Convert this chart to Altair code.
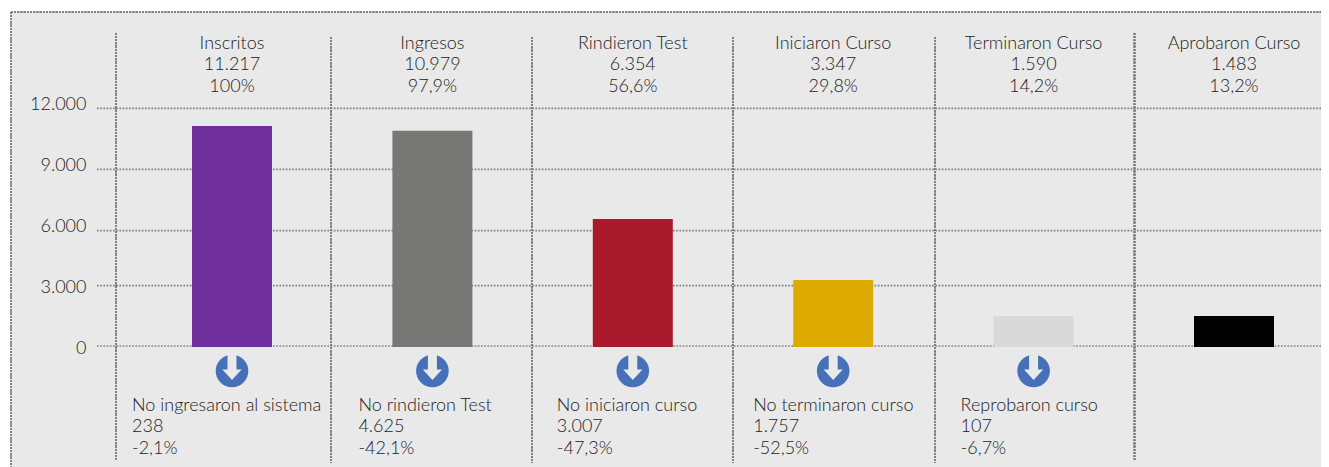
import altair as alt
import pandas as pd

stages = ["Inscritos", "Ingresos", "Rindieron Test", "Iniciaron Curso", "Terminaron Curso", "Aprobaron Curso"]
# bar lengths as drawn in the picture (the printed labels differ slightly for some bars)
bar_lengths = [11217, 10979, 6500, 3400, 1575, 1575]
value_labels = ["11.217", "10.979", "6.354", "3.347", "1.590", "1.483"]
pct_labels = ["100%", "97,9%", "56,6%", "29,8%", "14,2%", "13,2%"]
colors = ["#6f2f9d", "#777776", "#a8192b", "#dcaa00", "#d9d9d9", "#000000"]
loss_titles = ["No ingresaron al sistema", "No rindieron Test", "No iniciaron curso", "No terminaron curso", "Reprobaron curso"]
loss_values = ["238", "4.625", "3.007", "1.757", "107"]
loss_pcts = ["-2,1%", "-42,1%", "-47,3%", "-52,5%", "-6,7%"]
ticks = [0, 3000, 6000, 9000, 12000]

# layout (chart coordinates = page coordinates minus the 8px margin)
W, H = 1313, 459
PANEL = "#e9e9e9"
DOT = "#808080"
TXT = "#222222"
FONT = "Lato"
FS = 18
SEP_X = [108, 323, 524, 725, 927, 1126.5]
SEP_TOP = [25, 29, 29, 29, 29, 25]
SEP_BOT = [452, 455, 455, 455, 455, 452]
LOSS_DX = [-100, -74, -76, -80, -73]
GRID_RANGE = [338, 277.7, 222.7, 161.3, 100.3]

xscale = alt.Scale(domain=stages, range=[123.8, 1326.2], paddingInner=0, paddingOuter=0)
X = alt.X("stage:N", scale=xscale, axis=None, sort=stages)

df = pd.DataFrame({"stage": stages, "value": bar_lengths, "vl": value_labels, "pl": pct_labels, "color": colors})
loss = pd.DataFrame({"stage": stages[:5], "t": loss_titles, "v": loss_values, "p": loss_pcts})
tk = pd.DataFrame({"tick": ticks})

panel = alt.Chart(df).mark_rect(fill=PANEL).encode(
    x=alt.value(3), x2=alt.value(W), y=alt.value(4), y2=alt.value(H))
dot = dict(color=DOT, strokeDash=[1.7, 1.5], strokeWidth=1.7)
top_border = alt.Chart(df).mark_rule(**dot).encode(x=alt.value(3), x2=alt.value(W), y=alt.value(4))
left_border = alt.Chart(df).mark_rule(**dot).encode(x=alt.value(3), y=alt.value(4), y2=alt.value(H))

grid = alt.Chart(tk).mark_rule(**dot).encode(
    x=alt.value(89), x2=alt.value(W),
    y=alt.Y("tick:Q", axis=None, scale=alt.Scale(domain=ticks, range=GRID_RANGE)))

axis_layer = alt.Chart(tk).mark_rule(opacity=0).encode(
    y=alt.Y("tick:Q", title=None,
            scale=alt.Scale(domain=[0, 12000], range=[340, 96]),
            axis=alt.Axis(values=ticks, offset=-78, labelPadding=0, domain=False, ticks=False, grid=False,
                          zindex=1,
                          labelExpr="replace(format(datum.value, ',d'), ',', '.')",
                          labelFont=FONT, labelFontSize=FS, labelColor=TXT, labelFontWeight=300)))

seps = [alt.Chart(df).mark_rule(**dot).encode(x=alt.value(sx), y=alt.value(t), y2=alt.value(b))
        for sx, t, b in zip(SEP_X, SEP_TOP, SEP_BOT)]

bars = alt.Chart(df).mark_bar(width=80).encode(
    x=X,
    y=alt.Y("value:Q", axis=None, scale=alt.Scale(domain=[0, 12000], range=[339, 102.6])),
    y2=alt.datum(0),
    color=alt.Color("color:N", scale=None, legend=None))

def text(data, field, y, **kw):
    return alt.Chart(data).mark_text(font=FONT, fontSize=FS, color=TXT, fontWeight=300, baseline="middle", **kw).encode(
        x=X, y=alt.value(y), text=f"{field}:N")

top_text = [text(df, "stage", 36), text(df, "vl", 57), text(df, "pl", 79)]

ARROW = "M-0.28,-1.1 L0.28,-1.1 L0.28,-0.1 L0.6,-0.1 L0,0.56 L-0.6,-0.1 L-0.28,-0.1 Z"
circles = alt.Chart(loss).mark_point(shape="circle", filled=True, size=1063, color="#4671b8", opacity=1).encode(
    x=X, y=alt.value(363))
arrows = alt.Chart(loss).mark_point(shape=ARROW, filled=True, size=1024, color=PANEL, opacity=1).encode(
    x=X, y=alt.value(363))

loss_text = []
for i, dx in enumerate(LOSS_DX):
    sub = loss.iloc[[i]]
    loss_text += [text(sub, "t", 398, align="left", dx=dx),
                  text(sub, "v", 419, align="left", dx=dx),
                  text(sub, "p", 441, align="left", dx=dx)]

chart = alt.layer(
    panel, top_border, left_border, grid, axis_layer, *seps, bars,
    *top_text, circles, arrows, *loss_text
).resolve_scale(y="independent", x="shared", color="independent").properties(
    width=W, height=H, padding=0, autosize=alt.AutoSizeParams(type="none")
).configure_view(stroke=None)

chart.save("out.html", embed_options={"renderer": "svg", "actions": False})
